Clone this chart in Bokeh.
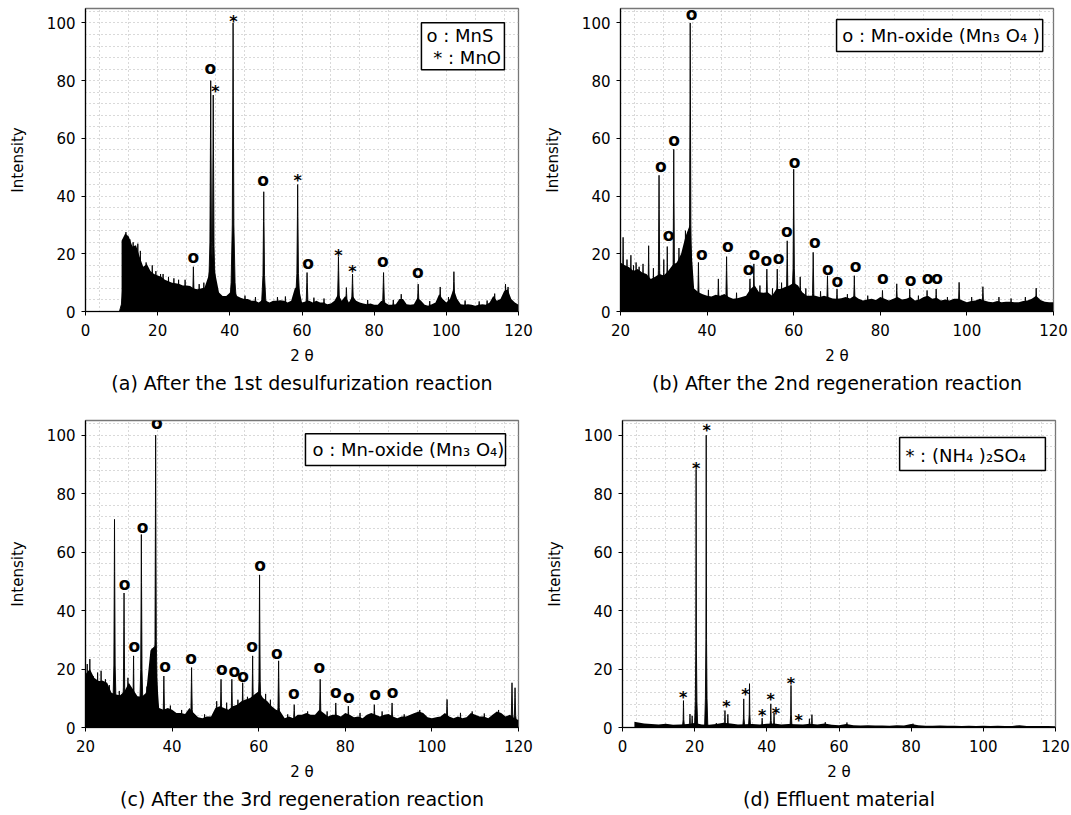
import numpy as np
from bokeh.plotting import figure
from bokeh.layouts import column, row
from bokeh.models import FixedTicker, Title, Range1d
from bokeh.core.properties import value
from bokeh.embed import file_html
from bokeh.resources import INLINE

FONT = "DejaVu Sans"

# ---------------- Panel (a): after the 1st desulfurization reaction ----------------
a_bg_x = list(range(10, 121))
a_bg_y = [24.5, 27, 26, 22.5, 23, 19, 15.5, 16.5, 14, 13,
          12.5, 12, 11, 10.5, 10, 9.8, 9.5, 9, 9, 8.8,
          8, 7.7, 8, 8.3, 12, 20, 13, 6.6, 5.4, 5.4,
          6.5, 8, 5.4, 4.8, 4.3, 4.3, 3.7, 3.7, 3.1, 4,
          3.7, 3.1, 3.7, 3.7, 3.9, 3.7, 3.1, 3.7, 8, 9,
          3.1, 3.5, 3.7, 3.1, 3.7, 3.1, 3.1, 2.5, 2.8, 3.7,
          6, 3.7, 5.4, 3.1, 5.5, 3.7, 3.1, 2.8, 2.5, 2.8,
          2.3, 2.3, 3.7, 3.1, 2.3, 2.3, 2.5, 4.3, 4.3, 2.5,
          2.3, 2.5, 4.8, 3.7, 2.3, 2, 2.5, 3.1, 6, 4.3,
          3.1, 4.3, 8, 4.3, 2.5, 2.3, 2.5, 2.3, 2, 2.3,
          2.5, 2.3, 3.1, 5.4, 3.7, 4.3, 7, 7.7, 4.3, 3.1,
          2.3]
a_pk_x = [10.5, 11.2, 12.3, 13.2, 14.5, 15.2, 16.8, 18.5, 19.5, 20.8, 21.5, 23.0,
          24.5, 25.8, 27.6, 29.9, 31.5, 32.8, 34.7, 35.4, 40.9, 44.2, 47.1, 49.4,
          53.2, 55.4, 58.8, 61.4, 63.3, 66.1, 70.1, 72.3, 74.0, 78.2, 82.6, 85.3,
          87.5, 92.2, 95.4, 98.3, 100.6, 102.1, 105.2, 109.1, 111.3, 113.4, 116.4, 117.1]
a_pk_y = [25, 27.5, 25, 24, 23.5, 21, 17, 16, 14, 13, 13, 12,
          11.5, 11, 11, 15.5, 9.5, 10, 80, 75, 100, 5.5, 5, 41.5,
          5, 5.2, 44, 13.5, 4.8, 4.5, 19, 8.3, 13, 4, 13.5, 4,
          6, 9.5, 3.6, 8.5, 5, 13.8, 3.8, 3.5, 3.8, 6.2, 9.5, 8.5]
a_mk_x = [29.9, 34.6, 36.0, 41.0, 49.2, 58.8, 61.7, 70.1, 74.0, 82.4, 92.1]
a_mk_y = [18.7, 83.9, 78.1, 102.3, 45.2, 47.3, 16.4, 21.2, 15.5, 17.3, 13.5]
a_mk_s = ["o", "o", "*", "*", "o", "*", "o", "*", "*", "o", "o"]
a_legend = ["o : MnS", "* : MnO"]

# ---------------- Panel (b): after the 2nd regeneration reaction ----------------
b_bg_x = list(range(20, 121))
b_bg_y = [17, 16, 15.3, 14, 14.7, 13.5, 13, 11.3, 12, 13,
          12.5, 14, 16, 17, 20, 26, 30, 8, 6.7, 6,
          5.5, 5.2, 5.8, 5.5, 6.1, 5, 4.4, 4.6, 5, 5.5,
          7.8, 9, 6.7, 6.5, 6.7, 5.5, 7.8, 7.8, 8.5, 9,
          10, 9, 6.7, 5.5, 5.5, 5.5, 5, 5.5, 5, 4.5,
          4.4, 4.6, 5, 4.5, 5.5, 4.4, 3.8, 4.2, 4.4, 4,
          5, 4.4, 3.8, 4.4, 5, 4.2, 4.4, 5, 3.8, 4.2,
          5, 5.5, 4.4, 4.8, 3.8, 4.2, 3.8, 4.4, 4.4, 3.8,
          3.2, 3.6, 3.8, 4.4, 3.8, 3.4, 3.2, 3.6, 3.2, 3.4,
          3.4, 3.2, 3.2, 3.6, 3.8, 4.4, 5.5, 4, 3.4, 3.2,
          3.2]
b_pk_x = [20.6, 21.5, 22.4, 23.0, 23.6, 24.3, 25.2, 26.5, 27.6, 28.9, 30.0, 30.8,
          32.3, 33.5, 35.0, 36.1, 38.0, 40.3, 42.6, 44.5, 46.8, 49.9, 50.8, 52.2,
          53.8, 55.1, 56.2, 57.2, 58.5, 60.0, 61.5, 62.8, 64.5, 66.2, 67.8, 70.0,
          72.4, 74.0, 77.1, 80.5, 83.8, 86.8, 88.8, 90.8, 92.9, 95.5, 98.2, 101.1,
          103.7, 107.4, 110.2, 113.5, 116.0]
b_pk_y = [25.7, 18, 19.5, 16, 17, 15.5, 16.5, 22.8, 15, 47.2, 18, 22.5,
          56.2, 22, 28, 100, 17, 7.5, 11.3, 19, 6.5, 11.3, 16.5, 9,
          14.7, 8, 14.7, 10, 24.5, 49.3, 12, 8, 20.5, 7, 12.4, 7.8,
          6, 12.4, 5.5, 7.3, 9.6, 7.8, 5.5, 7.3, 7.8, 5, 10.1, 5,
          8.6, 5, 4.5, 5, 8.1]
b_mk_x = [29.3, 31.1, 32.4, 36.4, 38.8, 44.8, 49.6, 50.9, 53.7, 56.5, 58.4, 60.2,
          64.9, 67.9, 70.1, 74.3, 80.6, 87.0, 90.9, 93.1]
b_mk_y = [50.2, 26.3, 59.1, 102.9, 19.7, 22.5, 14.4, 19.6, 17.6, 18.2, 27.6, 51.6,
          23.7, 14.4, 10.1, 15.3, 11.1, 10.4, 11.3, 11.3]
b_legend = ["o : Mn-oxide (Mn\u2083 O\u2084 )"]

# ---------------- Panel (c): after the 3rd regeneration reaction ----------------
c_bg_x = list(range(20, 121))
c_bg_y = [18.2, 20, 17, 15.9, 16, 15.3, 11.9, 11.3, 11, 12.4,
          15.3, 13, 10.7, 10.5, 11.9, 26.3, 28, 6.7, 6.1, 6.7,
          6.1, 5, 5, 4.6, 6.7, 5, 3.5, 3.2, 3.8, 3.8,
          6.7, 7.3, 6.7, 6.1, 7.3, 7.8, 9, 9.6, 10.1, 11.3,
          12.4, 10.1, 9, 7.3, 6.1, 5.5, 3.2, 3.8, 3.2, 4.4,
          4.4, 5, 4.4, 4.4, 6.1, 5, 3.8, 4.4, 4.4, 3.8,
          5, 4.4, 3.5, 3.8, 3.2, 4.4, 5, 4.4, 3.8, 4.4,
          4.6, 3.8, 3.2, 3.8, 3.8, 4.4, 5, 5.5, 5, 3.5,
          3.2, 3.5, 3.8, 5, 3.8, 3.2, 3.8, 3.2, 3.5, 5,
          4.4, 3.8, 3.8, 3.2, 4.4, 5.5, 5, 3.8, 4.4, 3.2,
          2.6]
c_pk_x = [20.4, 21.0, 21.8, 22.8, 23.6, 24.6, 25.5, 26.7, 27.8, 28.9, 29.8, 31.1,
          32.9, 34.2, 35.4, 36.2, 38.1, 39.6, 42.2, 44.5, 47.5, 50.3, 51.3, 52.6,
          53.8, 55.2, 56.3, 57.4, 58.6, 60.2, 61.6, 62.7, 64.6, 66.7, 68.2, 71.3,
          74.2, 75.8, 77.8, 80.7, 83.4, 86.7, 88.5, 90.8, 93.6, 97.2, 103.5, 106.6,
          109.3, 112.1, 115.4, 118.5, 119.2]
c_pk_y = [21.7, 23.4, 17.5, 18.8, 19.4, 16.5, 14.5, 71.2, 12.5, 46, 17, 24.5,
          66, 14, 27, 100, 17.6, 7.5, 6, 20.5, 4.5, 9, 16.5, 8.5,
          16.5, 9.5, 15.3, 10.5, 24.5, 52.2, 11.5, 9.5, 22.8, 4.5, 7.8, 5.5,
          16.5, 5.5, 8.4, 7.3, 5, 7.8, 5.5, 8.4, 4.5, 6, 9.6, 5,
          5.5, 4.8, 6, 15.3, 13.6]
c_mk_x = [36.5, 29.0, 31.3, 33.2, 38.4, 44.4, 51.5, 54.4, 56.4, 58.5, 60.3, 64.2,
          68.1, 74.0, 77.8, 80.8, 86.9, 90.9]
c_mk_y = [103.7, 48.7, 27.4, 68.3, 20.7, 23.4, 19.7, 19.1, 17.3, 27.6, 55.1, 25.1,
          11.3, 20.3, 11.9, 10.1, 11.1, 11.9]
c_legend = ["o : Mn-oxide (Mn\u2083 O\u2084)"]

# ---------------- Panel (d): effluent material ----------------
d_bg_x = [3.3] + list(range(4, 121, 2))
d_bg_y = [2.0, 1.8, 1.4, 1.2, 1.0, 1.3, 0.9, 1.0, 1.2, 1.5,
          1.0, 0.9, 1.2, 1.6, 1.4, 1.0, 1.1, 1.2, 1.0, 1.3,
          1.4, 1.0, 1.2, 1.1, 1.0, 1.3, 1.0, 1.4, 0.9, 0.8,
          1.2, 0.8, 0.7, 0.8, 0.7, 0.7, 0.6, 0.8, 0.7, 1.2,
          0.8, 0.6, 0.6, 0.7, 0.6, 0.6, 0.5, 0.6, 0.5, 0.6,
          0.5, 0.6, 0.5, 0.5, 0.8, 0.5, 0.5, 0.5, 0.5, 0.4]
d_pk_x = [16.9, 18.7, 19.3, 20.4, 23.2, 26.0, 28.4, 29.2, 33.6, 35.2, 38.7, 41.1,
          42.0, 46.7, 51.8, 52.5, 56.2, 62.2, 80.5]
d_pk_y = [9.2, 4.6, 4, 88.2, 100, 1.5, 5.8, 4.5, 9.8, 15, 3.2, 8.1,
          5, 14.4, 3, 4.4, 1.8, 1.7, 1.3]
d_mk_x = [23.3, 20.4, 16.8, 28.8, 34.1, 38.7, 41.1, 42.5, 46.7, 48.8]
d_mk_y = [103.2, 90.2, 12.1, 8.9, 12.9, 5.8, 11.3, 6.6, 16.7, 4.0]
d_legend = ["* : (NH\u2084 )\u2082SO\u2084"]

# ------------------------------------------------------------------------------
SHAPE_DX = np.array([-1.0, -0.5, -0.2, -0.06, 0.0, 0.06, 0.2, 0.5, 1.0])
SHAPE_FY = np.array([0.0, 0.1, 0.3, 0.75, 1.0, 0.75, 0.3, 0.1, 0.0])


def panel(bg_x, bg_y, pk_x, pk_y, mk_x, mk_y, mk_s, x_start, xticks, xgrid,
          caption, legend_lines, box, text_pos, peak_w,
          width, height, mbl, mbr, mbt, mbb):
    p = figure(width=width, height=height,
               x_range=Range1d(x_start, 120), y_range=Range1d(0, 105),
               output_backend="svg", toolbar_location=None,
               min_border_left=mbl, min_border_right=mbr,
               min_border_top=mbt, min_border_bottom=mbb)
    p.background_fill_color = "white"
    p.border_fill_color = "white"
    p.outline_line_color = "#777777"
    p.outline_line_width = 1.3

    # grid
    p.xgrid.ticker = FixedTicker(ticks=xgrid)
    p.ygrid.ticker = FixedTicker(ticks=list(range(4, 105, 4)))
    for g in (p.xgrid, p.ygrid):
        g.grid_line_color = "#b3b3b3"
        g.grid_line_dash = "1 3"
        g.grid_line_width = 1

    # axes
    p.xaxis.ticker = FixedTicker(ticks=xticks)
    p.yaxis.ticker = FixedTicker(ticks=[0, 20, 40, 60, 80, 100])
    for ax in (p.xaxis, p.yaxis):
        ax.axis_line_color = "black"
        ax.axis_line_width = 1.2
        ax.major_tick_line_color = "black"
        ax.major_tick_out = 4
        ax.major_tick_in = 0
        ax.minor_tick_line_color = None
        ax.major_label_text_font = FONT
        ax.major_label_text_font_size = "15px"
        ax.major_label_text_color = "black"
        ax.axis_label_text_font = FONT
        ax.axis_label_text_font_size = "15px"
        ax.axis_label_text_font_style = "normal"
        ax.axis_label_text_color = "black"
    p.xaxis.axis_label = "2 \u03b8"
    p.yaxis.axis_label = "Intensity"
    p.xaxis.major_label_standoff = 8
    p.yaxis.major_label_standoff = 6
    p.xaxis.axis_label_standoff = 8
    p.yaxis.axis_label_standoff = 17

    # spectrum: background + peaks
    p.varea(x=bg_x, y1=[0] * len(bg_x), y2=bg_y, fill_color="black", fill_alpha=1)
    xs = [list(x + peak_w * SHAPE_DX) for x in pk_x]
    ys = [list(h * SHAPE_FY) for h in pk_y]
    p.patches(xs=xs, ys=ys, fill_color="black", line_color="black", line_width=0.9)

    # peak markers
    ox = [x for x, s in zip(mk_x, mk_s) if s == "o"]
    oy = [y for y, s in zip(mk_y, mk_s) if s == "o"]
    sx = [x for x, s in zip(mk_x, mk_s) if s == "*"]
    sy = [y for y, s in zip(mk_y, mk_s) if s == "*"]
    if ox:
        p.text(x=ox, y=oy, text=["o"] * len(ox), text_align="center",
               text_baseline="middle", y_offset=-1, text_font=value(FONT),
               text_font_style="bold", text_font_size="17px", text_color="black")
    if sx:
        p.text(x=sx, y=sy, text=["*"] * len(sx), text_align="center",
               text_baseline="middle", y_offset=5, text_font=value(FONT),
               text_font_style="bold", text_font_size="16px", text_color="black")

    # legend box
    l, r, b, t = box
    p.quad(left=[l], right=[r], bottom=[b], top=[t], fill_color="white",
           line_color="black", line_width=1.5)
    for (tx, ty), line in zip(text_pos, legend_lines):
        p.text(x=[tx], y=[ty], text=[line], text_align="left", text_baseline="middle",
               text_font=value(FONT), text_font_size="18px", text_color="black")

    cap = Title(text=caption, align="center", text_font=FONT, text_font_size="19px",
                text_font_style="normal", text_color="black", standoff=4)
    p.add_layout(cap, "below")
    return p


grid_120 = [4 + 8 * k for k in range(15)]
grid_100 = [20 + 6.6667 * (k + 0.5) for k in range(15)]

pa = panel(a_bg_x, a_bg_y, a_pk_x, a_pk_y, a_mk_x, a_mk_y, a_mk_s, 0,
           [0, 20, 40, 60, 80, 100, 120], grid_120,
           "(a) After the 1st desulfurization reaction", a_legend,
           (93.1, 116.1, 83.8, 100.1), [(94.5, 95.6), (96.4, 88.0)], 1.1,
           535, 405, 85, 17, 8, 94)
pb = panel(b_bg_x, b_bg_y, b_pk_x, b_pk_y, b_mk_x, b_mk_y, ["o"] * len(b_mk_x), 20,
           [20, 40, 60, 80, 100, 120], grid_100,
           "(b) After the 2nd regeneration reaction", b_legend,
           (69.9, 117.5, 90.1, 101.2), [(71.2, 95.6)], 0.75,
           536, 405, 85, 18, 8, 94)
pc = panel(c_bg_x, c_bg_y, c_pk_x, c_pk_y, c_mk_x, c_mk_y, ["o"] * len(c_mk_x), 20,
           [20, 40, 60, 80, 100, 120], grid_100,
           "(c) After the 3rd regeneration reaction", c_legend,
           (70.8, 117.0, 89.6, 100.5), [(72.4, 95.1)], 0.75,
           535, 410, 85, 17, 15, 88)
pd_ = panel(d_bg_x, d_bg_y, d_pk_x, d_pk_y, d_mk_x, d_mk_y, ["*"] * len(d_mk_x), 0,
            [0, 20, 40, 60, 80, 100, 120], grid_120,
            "(d) Effluent material", d_legend,
            (76.8, 117.2, 87.9, 99.2), [(78.4, 93.0)], 0.45,
            536, 410, 87, 16, 15, 88)

layout = column(row(pa, pb), row(pc, pd_))
open("out.html", "w").write(file_html(layout, INLINE))
